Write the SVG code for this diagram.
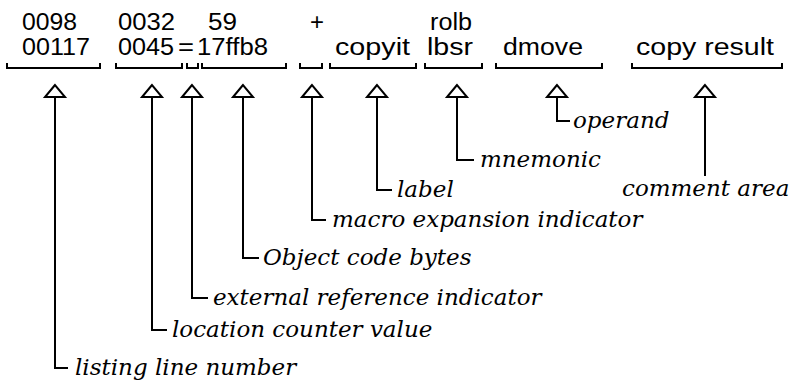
<svg xmlns="http://www.w3.org/2000/svg" xmlns:xlink="http://www.w3.org/1999/xlink" width="792" height="383" viewBox="0 0 792 383">
  <defs>
    <style>
      .src { font-family: "Liberation Sans", Arial, sans-serif; font-size: 23px; fill: #000; }
      .lbl { font-family: "DejaVu Serif", "Liberation Serif", serif; font-style: italic; font-size: 23px; fill: #000; }
      .brk, .lead { fill: none; stroke: #000; stroke-width: 2; }
      .tri { fill: #fff; stroke: #000; stroke-width: 2; stroke-linejoin: miter; }
    </style>
    <!-- hollow pointer, centred on x = 0 -->
    <path id="tri" class="tri" d="M 0 85 L -10 97 L 10 97 Z"/>
  </defs>
  <rect width="792" height="383" fill="#fff"/>

  <!-- listing fields with their brackets -->
  <g id="field-line-number">
    <text class="src" x="22" y="30" textLength="55" lengthAdjust="spacingAndGlyphs">0098</text>
    <text class="src" x="22" y="55" textLength="68" lengthAdjust="spacingAndGlyphs">00117</text>
    <path class="brk" d="M 7 63 V 68 H 100 V 63"/>
  </g>
  <g id="field-location">
    <text class="src" x="118" y="30" textLength="57" lengthAdjust="spacingAndGlyphs">0032</text>
    <text class="src" y="55"><tspan x="118" textLength="56" lengthAdjust="spacingAndGlyphs">0045</tspan><tspan x="178" textLength="16" lengthAdjust="spacingAndGlyphs">=</tspan><tspan x="197" textLength="71" lengthAdjust="spacingAndGlyphs">17ffb8</tspan></text>
    <path class="brk" d="M 116 63 V 68 H 182 V 63"/>
  </g>
  <g id="field-external">
    <path class="brk" d="M 187 63 V 68 H 198 V 63"/>
  </g>
  <g id="field-object-code">
    <text class="src" x="208" y="30" textLength="29" lengthAdjust="spacingAndGlyphs">59</text>
    <path class="brk" d="M 202 63 V 68 H 286 V 63"/>
  </g>
  <g id="field-macro">
    <text class="src" x="310" y="30" textLength="14" lengthAdjust="spacingAndGlyphs">+</text>
    <path class="brk" d="M 300 63 V 68 H 322 V 63"/>
  </g>
  <g id="field-label">
    <text class="src" x="335" y="55" textLength="75" lengthAdjust="spacingAndGlyphs">copyit</text>
    <path class="brk" d="M 330 63 V 68 H 416 V 63"/>
  </g>
  <g id="field-mnemonic">
    <text class="src" x="430" y="30" textLength="42" lengthAdjust="spacingAndGlyphs">rolb</text>
    <text class="src" x="427" y="55" textLength="46" lengthAdjust="spacingAndGlyphs">lbsr</text>
    <path class="brk" d="M 425 63 V 68 H 482 V 63"/>
  </g>
  <g id="field-operand">
    <text class="src" x="503" y="55" textLength="80" lengthAdjust="spacingAndGlyphs">dmove</text>
    <path class="brk" d="M 496 63 V 68 H 602 V 63"/>
  </g>
  <g id="field-comment">
    <text class="src" x="636" y="55" textLength="138" lengthAdjust="spacingAndGlyphs">copy result</text>
    <path class="brk" d="M 632 63 V 68 H 782 V 63"/>
  </g>

  <!-- captions -->
  <g id="cap-listing"><text class="lbl" x="75" y="375">listing line number</text></g>
  <g id="cap-location"><text class="lbl" x="172" y="337">location counter value</text></g>
  <g id="cap-external"><text class="lbl" x="213" y="305">external reference indicator</text></g>
  <g id="cap-object"><text class="lbl" x="263" y="265">Object code bytes</text></g>
  <g id="cap-macro"><text class="lbl" x="332" y="227">macro expansion indicator</text></g>
  <g id="cap-label"><text class="lbl" x="397" y="197">label</text></g>
  <g id="cap-mnemonic"><text class="lbl" x="480" y="167">mnemonic</text></g>
  <g id="cap-operand"><text class="lbl" x="573" y="128">operand</text></g>
  <g id="cap-comment"><text class="lbl" x="622" y="196">comment area</text></g>

  <!-- leader lines from each pointer to its caption -->
  <g id="connectors">
    <path class="lead" d="M 55 97 V 368 H 68"/>
    <path class="lead" d="M 152 97 V 330 H 167"/>
    <path class="lead" d="M 192 97 V 298 H 208"/>
    <path class="lead" d="M 243 97 V 258 H 259"/>
    <path class="lead" d="M 312 97 V 220 H 326"/>
    <path class="lead" d="M 377 97 V 190 H 392"/>
    <path class="lead" d="M 457 97 V 160 H 474"/>
    <path class="lead" d="M 557 97 V 121 H 570"/>
    <path class="lead" d="M 705 97 V 176"/>
    <use xlink:href="#tri" x="55"/>
    <use xlink:href="#tri" x="152"/>
    <use xlink:href="#tri" x="192"/>
    <use xlink:href="#tri" x="243"/>
    <use xlink:href="#tri" x="312"/>
    <use xlink:href="#tri" x="377"/>
    <use xlink:href="#tri" x="457"/>
    <use xlink:href="#tri" x="557"/>
    <use xlink:href="#tri" x="705"/>
  </g>
</svg>
